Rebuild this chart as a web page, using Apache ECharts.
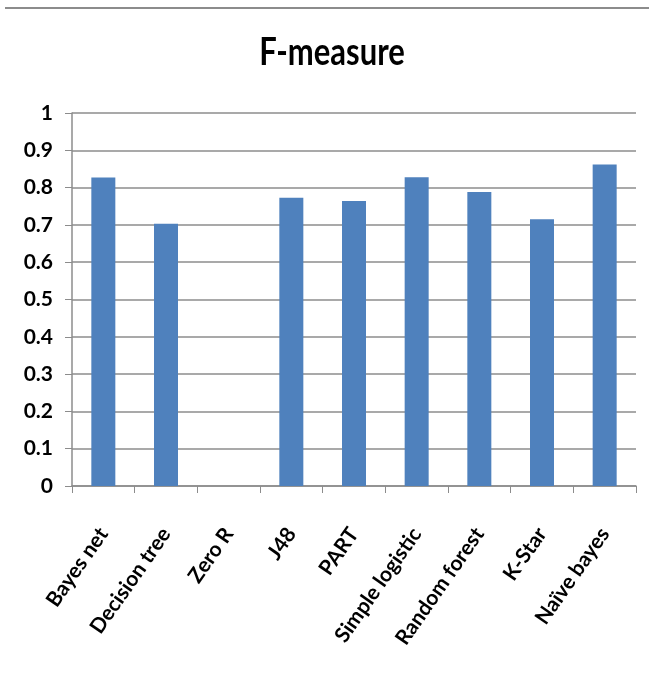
<!DOCTYPE html>
<html>
<head>
<meta charset="utf-8">
<script src="https://cdn.jsdelivr.net/npm/echarts@6/dist/echarts.min.js"></script>
<style>
  html, body { margin: 0; padding: 0; background: #fff; }
  #chart { width: 649px; height: 689px; }
</style>
</head>
<body>
<div id="chart"></div>
<script>
// Classifier names along the x axis
const classifiers = ['Bayes net', 'Decision tree', 'Zero R', 'J48', 'PART',
  'Simple logistic', 'Random forest', 'K-Star', 'Naïve bayes'];
// F-measure score per classifier
const fMeasure = [0.827, 0.703, 0, 0.773, 0.764, 0.828, 0.788, 0.715, 0.862];
// Value axis range and step
const yMin = 0, yMax = 1, yStep = 0.1;

const font = 'Lato, "Open Sans", sans-serif';
const chart = echarts.init(document.getElementById('chart'), null, { renderer: 'canvas' });

chart.setOption({
  backgroundColor: '#ffffff',
  animation: false,
  graphic: [{
    type: 'line', shape: { x1: 5, y1: 8, x2: 649, y2: 8 },
    style: { stroke: '#8c8c8c', lineWidth: 2 }
  }, {
    // chart title, drawn slightly tall and narrow
    type: 'text', x: 332, y: 53, scaleY: 1.2,
    style: {
      text: 'F-measure', align: 'center', verticalAlign: 'middle',
      font: 'bold 31px ' + font, fill: '#000'
    }
  }],
  grid: { left: 72, right: 13, top: 113, bottom: 203, containLabel: false },
  xAxis: {
    type: 'category',
    data: classifiers,
    boundaryGap: true,
    axisLine: { show: true, lineStyle: { color: '#8c8c8c', width: 1.5 } },
    axisTick: { show: true, alignWithLabel: false, length: 7, lineStyle: { color: '#8c8c8c' } },
    axisLabel: {
      rotate: 55, interval: 0, margin: 44,
      fontFamily: font, fontWeight: 'bold', fontSize: 21, color: '#000'
    },
    splitLine: { show: false }
  },
  yAxis: {
    type: 'value', min: yMin, max: yMax, interval: yStep,
    axisLine: { show: true, lineStyle: { color: '#8c8c8c', width: 1.5 } },
    axisTick: { show: true, length: 7, inside: false, lineStyle: { color: '#8c8c8c' } },
    axisLabel: {
      margin: 19, fontFamily: font, fontWeight: 'bold', fontSize: 21, color: '#000',
      formatter: v => String(Math.round(v * 10) / 10)
    },
    splitLine: { show: true, lineStyle: { color: '#8c8c8c', width: 1.5 } }
  },
  series: [{
    type: 'bar',
    data: fMeasure,
    barWidth: 24,
    itemStyle: { color: '#4f81bd' }
  }]
});
</script>
</body>
</html>
